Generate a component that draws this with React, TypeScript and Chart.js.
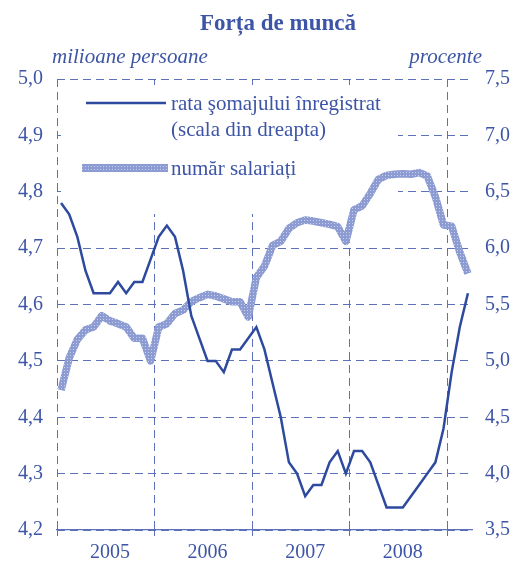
import React, { useEffect, useRef } from 'react';
import { Chart, registerables } from 'chart.js';

Chart.register(...registerables);

// ---- data ----
const YEARS = ['2005', '2006', '2007', '2008', '2009'];
const MONTHS = ['ian', 'feb', 'mar', 'apr', 'mai', 'iun', 'iul', 'aug', 'sep', 'oct', 'noi', 'dec'];

// rata somajului inregistrat (%), right axis, ian 2005 - mar 2009
const RATE = [
  6.4, 6.3, 6.1, 5.8, 5.6, 5.6, 5.6, 5.7, 5.6, 5.7, 5.7, 5.9,
  6.1, 6.2, 6.1, 5.8, 5.4, 5.2, 5.0, 5.0, 4.9, 5.1, 5.1, 5.2,
  5.3, 5.1, 4.8, 4.5, 4.1, 4.0, 3.8, 3.9, 3.9, 4.1, 4.2, 4.0,
  4.2, 4.2, 4.1, 3.9, 3.7, 3.7, 3.7, 3.8, 3.9, 4.0, 4.1, 4.4,
  4.9, 5.3, 5.6,
];

// numar salariati (milioane persoane), left axis
const EMPLOYEES = [
  4.448, 4.505, 4.538, 4.555, 4.56, 4.58, 4.571, 4.566, 4.56, 4.54, 4.54, 4.50,
  4.56, 4.566, 4.584, 4.59, 4.605, 4.612, 4.618, 4.615, 4.61, 4.605, 4.605, 4.578,
  4.648, 4.668, 4.705, 4.712, 4.735, 4.745, 4.75, 4.748, 4.745, 4.742, 4.738, 4.712,
  4.768, 4.775, 4.797, 4.822, 4.829, 4.831, 4.832, 4.831, 4.834, 4.828, 4.791, 4.741,
  4.739, 4.693, 4.655,
];

const CATEGORIES = RATE.map((_, i) => `${MONTHS[i % 12]} ${YEARS[Math.floor(i / 12)]}`);

const TITLE = 'Forța de muncă';
const LEFT_UNIT = 'milioane persoane';
const RIGHT_UNIT = 'procente';
const LEGEND_RATE = ['rata şomajului înregistrat', '(scala din dreapta)'];
const LEGEND_EMP = 'număr salariați';

// ---- styles ----
const SERIF = "'Liberation Serif', 'Times New Roman', serif";
const TEXT = '#3d55a6';
const LINE = '#2e4a9f';
const GRID = '#5c71ba';

function makePattern(): CanvasPattern | string {
  const c = document.createElement('canvas');
  c.width = 3;
  c.height = 3;
  const g = c.getContext('2d');
  if (!g) return '#9aa8d8';
  g.fillStyle = '#8c9cd2';
  g.fillRect(0, 0, 3, 3);
  g.fillStyle = '#c8d0ec';
  g.fillRect(1, 1, 1, 1);
  return g.createPattern(c, 'repeat') || '#9aa8d8';
}

export default function App() {
  const ref = useRef<HTMLCanvasElement | null>(null);

  useEffect(() => {
    document.body.style.margin = '0';
    const canvas = ref.current;
    if (!canvas) return;
    const pattern = makePattern();

    const overlay = {
      id: 'overlay',
      beforeDatasetsDraw(chart: any) {
        const { ctx, chartArea } = chart;
        ctx.save();
        ctx.fillStyle = '#ffffff';
        ctx.fillRect(chartArea.left + 4, chartArea.top + 6, 337, 129);
        ctx.restore();
      },
      afterDraw(chart: any) {
        const { ctx, chartArea } = chart;
        const L = chartArea.left;
        const T = chartArea.top;
        ctx.save();
        ctx.fillStyle = TEXT;
        ctx.textBaseline = 'middle';
        // title
        ctx.font = `bold 23px ${SERIF}`;
        ctx.textAlign = 'center';
        ctx.fillText(TITLE, 278, 24);
        // unit labels
        ctx.font = `italic 21px ${SERIF}`;
        ctx.textAlign = 'left';
        ctx.fillText(LEFT_UNIT, 52, 57);
        ctx.textAlign = 'right';
        ctx.fillText(RIGHT_UNIT, 482, 57);
        // legend
        ctx.strokeStyle = LINE;
        ctx.lineWidth = 2.5;
        ctx.beginPath();
        ctx.moveTo(L + 29, T + 24);
        ctx.lineTo(L + 109, T + 24);
        ctx.stroke();
        ctx.fillStyle = pattern as any;
        ctx.fillRect(L + 25, T + 85, 86, 8);
        ctx.fillStyle = TEXT;
        ctx.font = `21px ${SERIF}`;
        ctx.textAlign = 'left';
        ctx.fillText(LEGEND_RATE[0], L + 114, T + 25);
        ctx.fillText(LEGEND_RATE[1], L + 114, T + 51);
        ctx.fillText(LEGEND_EMP, L + 114, T + 90);
        ctx.restore();
      },
    };

    const yearGrid = (c: any) => (c.index % 12 === 0 && c.index < CATEGORIES.length ? GRID : 'rgba(0,0,0,0)');

    const chart = new Chart(canvas, {
      type: 'line',
      data: {
        labels: CATEGORIES,
        datasets: [
          {
            label: 'rata şomajului înregistrat',
            data: RATE,
            yAxisID: 'y1',
            borderColor: LINE,
            borderWidth: 2.5,
            pointRadius: 0,
            tension: 0,
            fill: false,
          },
          {
            label: 'număr salariați',
            data: EMPLOYEES,
            yAxisID: 'y',
            borderColor: pattern as any,
            borderWidth: 7.5,
            pointRadius: 0,
            tension: 0,
            fill: false,
            borderJoinStyle: 'round',
          } as any,
        ],
      },
      options: {
        responsive: false,
        animation: false,
        devicePixelRatio: 1,
        layout: { padding: { top: 79, left: 0, right: 0, bottom: 0 } },
        plugins: {
          legend: { display: false },
          title: { display: false },
          tooltip: { enabled: false },
        },
        scales: {
          x: {
            type: 'category',
            offset: true,
            grid: {
              offset: true,
              color: yearGrid,
              tickColor: yearGrid,
              lineWidth: 1,
              drawTicks: true,
              tickLength: 6,
            },
            border: { display: true, color: GRID, width: 1.2, dash: [8, 5] },
            ticks: {
              autoSkip: false,
              maxRotation: 0,
              minRotation: 0,
              padding: 5,
              color: TEXT,
              font: { family: SERIF, size: 20 },
              callback: (_v: any, i: number) => (i % 12 === 6 ? YEARS[Math.floor(i / 12)] : ''),
            },
            afterFit: (s: any) => {
              s.height = 31;
            },
          },
          y: {
            position: 'left',
            min: 4.2,
            max: 5.0,
            grid: { color: GRID, lineWidth: 1, drawTicks: false, tickLength: 0 },
            border: { display: false, dash: [8, 5] },
            ticks: {
              stepSize: 0.1,
              padding: 14,
              color: TEXT,
              font: { family: SERIF, size: 20 },
              callback: (v: any) => Number(v).toFixed(1).replace('.', ','),
            },
            afterFit: (s: any) => {
              s.width = 57;
            },
          },
          y1: {
            position: 'right',
            min: 3.5,
            max: 7.5,
            grid: { display: false, drawTicks: false, tickLength: 0 },
            border: { display: false },
            ticks: {
              stepSize: 0.5,
              padding: 13,
              color: TEXT,
              font: { family: SERIF, size: 20 },
              callback: (v: any) => Number(v).toFixed(1).replace('.', ','),
            },
            afterFit: (s: any) => {
              s.width = 43;
            },
          },
        },
      },
      plugins: [overlay],
    } as any);

    return () => chart.destroy();
  }, []);

  return (
    <div style={{ width: 515, height: 561 }}>
      <canvas ref={ref} width={515} height={561} style={{ display: 'block', width: 515, height: 561 }} />
    </div>
  );
}
